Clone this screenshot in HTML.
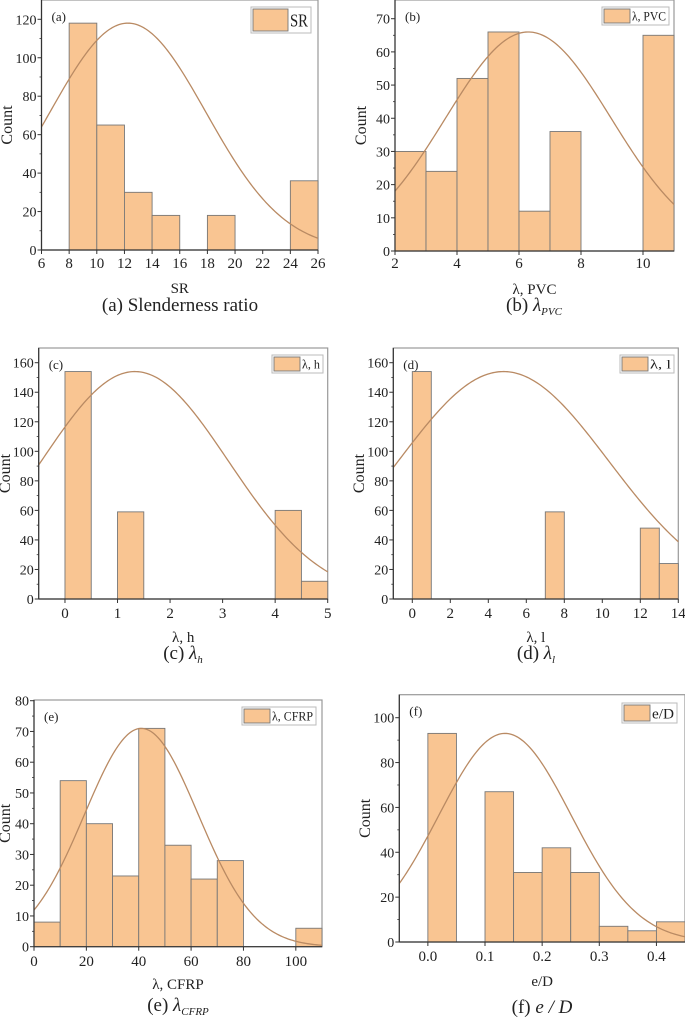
<!DOCTYPE html>
<html><head><meta charset="utf-8"><style>
html,body{margin:0;padding:0;background:#fff}
svg{display:block;font-family:"Liberation Serif","DejaVu Serif",serif}
svg text{font-family:"Liberation Serif","DejaVu Serif",serif;fill:#222}
</style></head><body>
<svg id="fig" width="685" height="1022" viewBox="0 0 685 1022" font-family="Liberation Serif, DejaVu Serif, serif" xmlns="http://www.w3.org/2000/svg"></svg>
<script>
// ---- data ----
const aBins=[8,10,12,14,18,24];
const aCounts=[118,65,30,18,18,36];
const aTicks=[6,8,10,12,14,16,18,20,22,24,26];
const aYTicks=[0,20,40,60,80,100,120];
const aFit=[118,12.25,5.65];

const bBins=[2,3,4,5,6,7,10];
const bCounts=[30,24,52,66,12,36,65];
const bTicks=[2,4,6,8,10];
const bYTicks=[0,10,20,30,40,50,60,70];
const bFit=[66,6.3,2.67];

const cBins=[0,1,4,4.5];
const cCounts=[154,59,60,12];
const cTicks=[0,1,2,3,4,5];
const cYTicks=[0,20,40,60,80,100,120,140,160];
const cFit=[154,1.33,1.78];

const dBins=[0,7,12,13];
const dCounts=[154,59,48,24];
const dTicks=[0,2,4,6,8,10,12,14];
const dYTicks=[0,20,40,60,80,100,120,140,160];
const dFit=[154,4.8,5.54];

const eBins=[0,10,20,30,40,50,60,70,100];
const eCounts=[8,54,40,23,71,33,22,28,6];
const eTicks=[0,20,40,60,80,100];
const eYTicks=[0,10,20,30,40,50,60,70,80];
const eFit=[71,41,21.7];

const fBins=[0,0.1,0.15,0.2,0.25,0.3,0.35,0.4];
const fCounts=[93,67,31,42,31,7,5,9];
const fTicks=[0,0.1,0.2,0.3,0.4];
const fYTicks=[0,20,40,60,80,100];
const fFit=[93,0.135,0.116];

const panels=[
 {id:'a',bins:aBins,counts:aCounts,w:2,ticks:aTicks,yt:aYTicks,fit:aFit,fmt:v=>v,
  L:41.5,R:318,T:0,B:250,x0:6,x1:26,ymax:120,yTop:19.3,title:'SR',cap:'(a)  Slenderness ratio',capSub:null,
  leg:[251,7,60,26],legTxt:'SR',legFs:18,ty:263,tt:288,tc:311,mid:180,yl:12},
 {id:'b',bins:bBins,counts:bCounts,w:1,ticks:bTicks,yt:bYTicks,fit:bFit,fmt:v=>v,
  L:395,R:674,T:0,B:251,x0:2,x1:11,ymax:70,yTop:18.7,title:'λ, PVC',cap:'(b)  ',capSub:['λ','PVC'],
  leg:[602,7,67,18],legTxt:'λ, PVC',legFs:13,ty:263,tt:289,tc:311,mid:534,yl:366},
 {id:'c',bins:cBins,counts:cCounts,w:0.5,ticks:cTicks,yt:cYTicks,fit:cFit,fmt:v=>v,
  L:38.7,R:327.7,T:348,B:599,x0:-0.5,x1:5,ymax:160,yTop:362.7,title:'λ, h',cap:'(c)  ',capSub:['λ','h'],
  leg:[272,355,51,18],legTxt:'λ, h',legFs:13,ty:613,tt:637,tc:659,mid:183,yl:10},
 {id:'d',bins:dBins,counts:dCounts,w:1,ticks:dTicks,yt:dYTicks,fit:dFit,fmt:v=>v,
  L:393.3,R:678.3,T:348,B:599,x0:-1,x1:14,ymax:160,yTop:362.7,title:'λ, l',cap:'(d)  ',capSub:['λ','l'],
  leg:[620,355,54,18],legTxt:'λ, l',legFs:13,ty:613,tt:637,tc:659,mid:536,yl:364},
 {id:'e',bins:eBins,counts:eCounts,w:10,ticks:eTicks,yt:eYTicks,fit:eFit,fmt:v=>v,
  L:34,R:322,T:700,B:946.7,x0:0,x1:110,ymax:80,yTop:700.7,title:'λ, CFRP',cap:'(e)  ',capSub:['λ','CFRP'],
  leg:[242,707,74,18],legTxt:'λ, CFRP',legFs:13,ty:961,tt:984,tc:1011,mid:178,yl:10},
 {id:'f',bins:fBins,counts:fCounts,w:0.05,ticks:fTicks,yt:fYTicks,fit:fFit,fmt:v=>v.toFixed(1),
  L:399.3,R:685,T:694.7,B:942,x0:-0.05,x1:0.45,ymax:100,yTop:717.7,title:'e/D',cap:'(f)  ',capSub:null,capF:true,
  leg:[622,703,55,20],legTxt:'e/D',legFs:15,ty:956,tt:981,tc:1013,mid:542,yl:370}
];

const NS='http://www.w3.org/2000/svg';
const FF='Liberation Serif, DejaVu Serif, serif';
const svg=document.getElementById('fig');
function mk(tag,attrs,parent){const e=document.createElementNS(NS,tag);for(const k in attrs)e.setAttribute(k,attrs[k]);if(tag==='text')e.setAttribute('font-family',FF);(parent||svg).appendChild(e);return e;}

panels.forEach(p=>{
  const g=mk('g',{});
  
  
  const sx=v=>p.L+(v-p.x0)/(p.x1-p.x0)*(p.R-p.L);
  const sy=v=>p.B-v/p.ymax*(p.B-p.yTop);
  const fr=mk('rect',{x:p.L,y:p.T,width:p.R-p.L,height:p.B-p.T,fill:'none',stroke:'#999','stroke-width':1.2},g);
  
  
  p.bins.forEach((b,i)=>{
    const x=sx(b),x2=sx(b+p.w),y=sy(p.counts[i]);
    const r=mk('rect',{x:x,y:y,width:x2-x,height:p.B-y,fill:'#f9c592',stroke:'#777','stroke-width':0.9},g);
    
    
  });
  let d='';const N=160;
  for(let k=0;k<=N;k++){const v=p.x0+(p.x1-p.x0)*k/N;const c=p.fit[0]*Math.exp(-Math.pow(v-p.fit[1],2)/(2*p.fit[2]*p.fit[2]));d+=(k?'L':'M')+sx(v).toFixed(2)+' '+sy(c).toFixed(2);}
  const cv=mk('path',{d:d,fill:'none',stroke:'#b98a63','stroke-width':1.3},g);
  
  
  mk('line',{x1:p.L,y1:p.B,x2:p.R,y2:p.B,stroke:'#333','stroke-width':1.2},g);
  mk('line',{x1:p.L,y1:p.T,x2:p.L,y2:p.B,stroke:'#333','stroke-width':1.2},g);
  p.ticks.forEach(t=>{
    const x=sx(t);
    mk('line',{x1:x,y1:p.B,x2:x,y2:p.B+4,stroke:'#333','stroke-width':1},g);
    const tx=mk('text',{x:x,y:p.ty+5,'font-size':15,'text-anchor':'middle'},g);
    tx.textContent=p.fmt(t);
    
    
  });
  p.yt.forEach((t,i)=>{
    const y=sy(t);
    mk('line',{x1:p.L-4,y1:y,x2:p.L,y2:y,stroke:'#333','stroke-width':1},g);
    if(i<p.yt.length-1){const ym=sy((t+p.yt[i+1])/2);mk('line',{x1:p.L-2,y1:ym,x2:p.L,y2:ym,stroke:'#333','stroke-width':0.8},g);}
    const tx=mk('text',{x:p.L-5,y:y+5,'font-size':14,'text-anchor':'end'},g);
    tx.textContent=t;
    
    
  });
  const yl=mk('text',{x:0,y:0,'font-size':16,'text-anchor':'middle',transform:`translate(${p.yl},${(p.T+p.B)/2}) rotate(-90)`},g);
  yl.textContent='Count';
  
  
  const xl=mk('text',{x:(p.L+p.R)/2,y:p.tt+5,'font-size':15,'text-anchor':'middle'},g);
  xl.textContent=p.title;
  
  
  const pl=mk('text',{x:p.L+10,y:p.T+21,'font-size':13},g);
  pl.textContent='('+p.id+')';
  
  
  const lg=mk('g',{},g);
  
  
  const [lx,ly,lw,lh]=p.leg;
  mk('rect',{x:lx,y:ly,width:lw,height:lh,fill:'#fff',stroke:'#bbb','stroke-width':1},lg);
  const swW=lh<22?26:35;
  mk('rect',{x:lx+2,y:ly+2,width:swW,height:lh-4,fill:'#f9c592',stroke:'#777','stroke-width':0.9},lg);
  const lt=mk('text',{x:lx+swW+4,y:ly+lh/2+p.legFs*0.35,'font-size':p.legFs,'textLength':lw-swW-7,'lengthAdjust':'spacingAndGlyphs'},lg);
  lt.textContent=p.legTxt;
  const cp=mk('text',{x:p.mid,y:p.tc,'font-size':19,'text-anchor':'middle'},g);
  
  
  if(p.capSub){
    cp.appendChild(document.createTextNode(p.cap));
    const t1=mk('tspan',{'font-style':'italic'},cp);t1.textContent=p.capSub[0];
    const t2=mk('tspan',{'font-style':'italic','font-size':11,dy:4},cp);t2.textContent=p.capSub[1];
  } else if(p.capF){
    cp.appendChild(document.createTextNode(p.cap));
    const t1=mk('tspan',{'font-style':'italic'},cp);t1.textContent='e / D';
  } else cp.textContent=p.cap;
});
</script>
</body></html>
